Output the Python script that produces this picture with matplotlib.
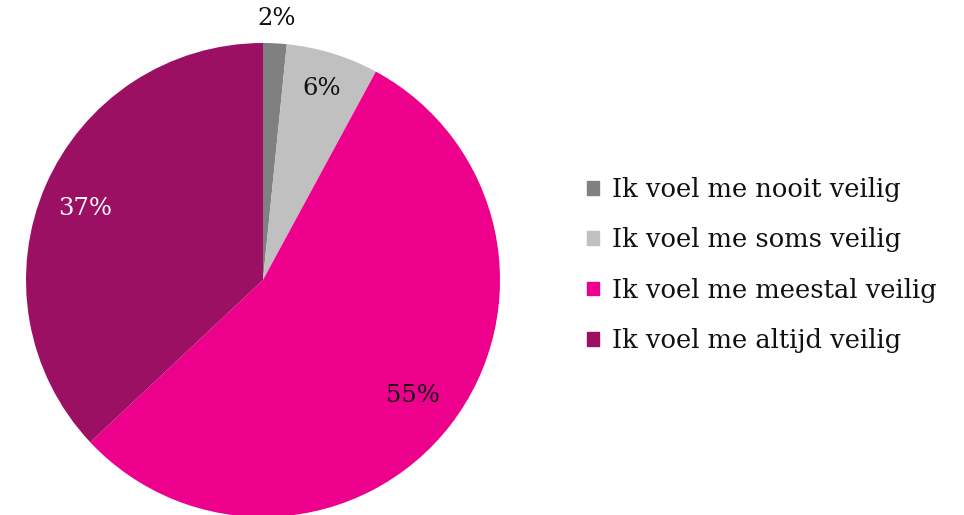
import numpy as np
import matplotlib
matplotlib.use("Agg")
import matplotlib.pyplot as plt

categories = ["Ik voel me nooit veilig", "Ik voel me soms veilig",
              "Ik voel me meestal veilig", "Ik voel me altijd veilig"]
values = [1.6, 6.3, 55.1, 37.0]
labels = ["2%", "6%", "55%", "37%"]
colors = ["#808080", "#C0C0C0", "#EC008C", "#9B1063"]
label_colors = ["#111111", "#111111", "#111111", "#FFFFFF"]

plt.rcParams['font.family'] = ['DejaVu Serif']

fig = plt.figure(figsize=(9.64, 5.15), dpi=100)
W, H = 964, 515
cx, cy, r = 263, 280, 237
ax = fig.add_axes([(cx - r) / W, (H - cy - r) / H, 2 * r / W, 2 * r / H])
wedges, _ = ax.pie(values, colors=colors, startangle=90, counterclock=False,
                   radius=1.0, wedgeprops=dict(linewidth=0))
ax.set_xlim(-1, 1)
ax.set_ylim(-1, 1)
ax.set_aspect('equal')
ax.axis('off')

# label placement: (distance, angle offset in degrees)
place = [(1.105, 0.0), (0.845, 0.0), (0.80, 0.0), (0.81, 1.5)]
for w, lab, col, (d, off) in zip(wedges, labels, label_colors, place):
    ang = np.deg2rad((w.theta1 + w.theta2) / 2 + off)
    ax.text(d * np.cos(ang), d * np.sin(ang), lab, ha='center', va='center',
            fontsize=17.5, color=col, clip_on=False)

handles = [plt.Rectangle((0, 0), 1, 1, color=c) for c in colors]
fig.legend(handles, categories, loc='center left',
           bbox_to_anchor=(564 / W, 1 - 265 / H), frameon=False,
           fontsize=18.5, handlelength=0.45, handleheight=0.45,
           handletextpad=0.5, labelspacing=0.99, labelcolor='#111111')

fig.savefig("out.png", dpi=100)
